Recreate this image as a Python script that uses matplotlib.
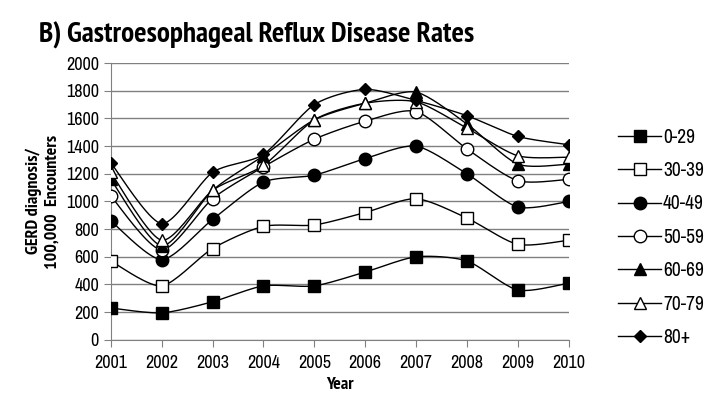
import numpy as np
import matplotlib.pyplot as plt
from matplotlib import font_manager

# данные
years = [2001, 2002, 2003, 2004, 2005, 2006, 2007, 2008, 2009, 2010]
age_groups = ['0-29', '30-39', '40-49', '50-59', '60-69', '70-79', '80+']
r_0_29 = [230, 195, 275, 390, 390, 490, 600, 570, 360, 410]
r_30_39 = [570, 390, 660, 820, 830, 920, 1020, 880, 690, 720]
r_40_49 = [860, 580, 870, 1140, 1190, 1310, 1400, 1200, 960, 1000]
r_50_59 = [1040, 650, 1020, 1250, 1450, 1580, 1650, 1380, 1150, 1160]
r_60_69 = [1160, 680, 1080, 1330, 1590, 1710, 1790, 1560, 1270, 1270]
r_70_79 = [1210, 720, 1080, 1260, 1590, 1710, 1720, 1530, 1330, 1320]
r_80 = [1280, 840, 1210, 1340, 1700, 1810, 1730, 1620, 1470, 1410]
series = [r_0_29, r_30_39, r_40_49, r_50_59, r_60_69, r_70_79, r_80]

markers = [('s', 'black', 9), ('s', 'white', 9), ('o', 'black', 9), ('o', 'white', 9),
           ('^', 'black', 9), ('^', 'white', 9), ('D', 'black', 6)]

# ищем узкий шрифт, похожий на Arial Narrow (обычный и жирный)
cands = ['Arial Narrow', 'Liberation Sans Narrow', 'Archivo Narrow', 'PT Sans Narrow',
         'Roboto Condensed', 'Pragati Narrow', 'Encode Sans Condensed', 'Open Sans Condensed',
         'Fira Sans Condensed', 'IBM Plex Sans Condensed', 'Barlow Semi Condensed',
         'Barlow Condensed', 'Asap Condensed', 'Sofia Sans Condensed', 'Saira Condensed']
fonts = font_manager.fontManager.ttflist
fam = 'Liberation Sans'
bfam = 'Liberation Sans'
for cand in cands:
    if any(f.name == cand for f in fonts):
        fam = cand
        break
for cand in cands:
    if any(f.name == cand and f.weight in (700, 'bold') for f in fonts):
        bfam = cand
        break
plt.rcParams['font.family'] = [fam, 'DejaVu Sans']


def smooth(x, y, n=20):
    # сглаживание как в Excel (Catmull-Rom)
    x = np.asarray(x, float)
    y = np.asarray(y, float)
    px = np.concatenate([[x[0]], x, [x[-1]]])
    py = np.concatenate([[y[0]], y, [y[-1]]])
    xs, ys = [], []
    for i in range(1, len(px) - 2):
        t = np.linspace(0, 1, n, endpoint=False)
        for p, out in ((px, xs), (py, ys)):
            p0, p1, p2, p3 = p[i - 1], p[i], p[i + 1], p[i + 2]
            m1 = (p2 - p0) / 2 * 0.75
            m2 = (p3 - p1) / 2 * 0.75
            h00 = 2 * t**3 - 3 * t**2 + 1
            h10 = t**3 - 2 * t**2 + t
            h01 = -2 * t**3 + 3 * t**2
            h11 = t**3 - t**2
            out.extend(h00 * p1 + h10 * m1 + h01 * p2 + h11 * m2)
    xs.append(x[-1])
    ys.append(y[-1])
    return xs, ys


fig = plt.figure(figsize=(7.1, 4.07), dpi=100)
ax = fig.add_axes([0.156, 0.165, 0.645, 0.68])

handles = []
for s, (m, fc, ms) in zip(series, markers):
    xs, ys = smooth(years, s)
    ax.plot(xs, ys, color='black', lw=1, zorder=2)
    ax.plot(years, s, linestyle='none', marker=m, markerfacecolor=fc,
            markeredgecolor='black', markersize=ms, zorder=3)
    h, = ax.plot([], [], color='black', lw=1, marker=m, markerfacecolor=fc,
                 markeredgecolor='black', markersize=ms)
    handles.append(h)

ax.set_xlim(2001, 2010)
ax.set_ylim(0, 2000)
ax.set_xticks(years)
ax.set_yticks(range(0, 2001, 200))
ax.yaxis.grid(True, color='#808080', lw=1)
ax.set_axisbelow(True)
for sp in ['top', 'right']:
    ax.spines[sp].set_visible(False)
for sp in ['left', 'bottom']:
    ax.spines[sp].set_color('#808080')
ax.tick_params(axis='both', labelsize=13, color='#808080', length=5)
ax.tick_params(axis='x', pad=6)

ax.set_xlabel('Year', fontsize=13, fontweight='bold', family=[bfam, 'DejaVu Sans'])
ax.set_ylabel('GERD diagnosis/\n100,000  Encounters', fontsize=13, fontweight='bold',
              family=[bfam, 'DejaVu Sans'])

fig.text(0.362, 0.912, 'B) Gastroesophageal Reflux Disease Rates', ha='center', va='center',
         fontsize=21, fontweight='bold', family=[bfam, 'DejaVu Sans'])

fig.legend(handles, age_groups, loc='center left', bbox_to_anchor=(0.846, 0.417),
           frameon=False, fontsize=14, handlelength=2.2, handletextpad=0.1,
           labelspacing=0.74)

plt.savefig('out.png')
